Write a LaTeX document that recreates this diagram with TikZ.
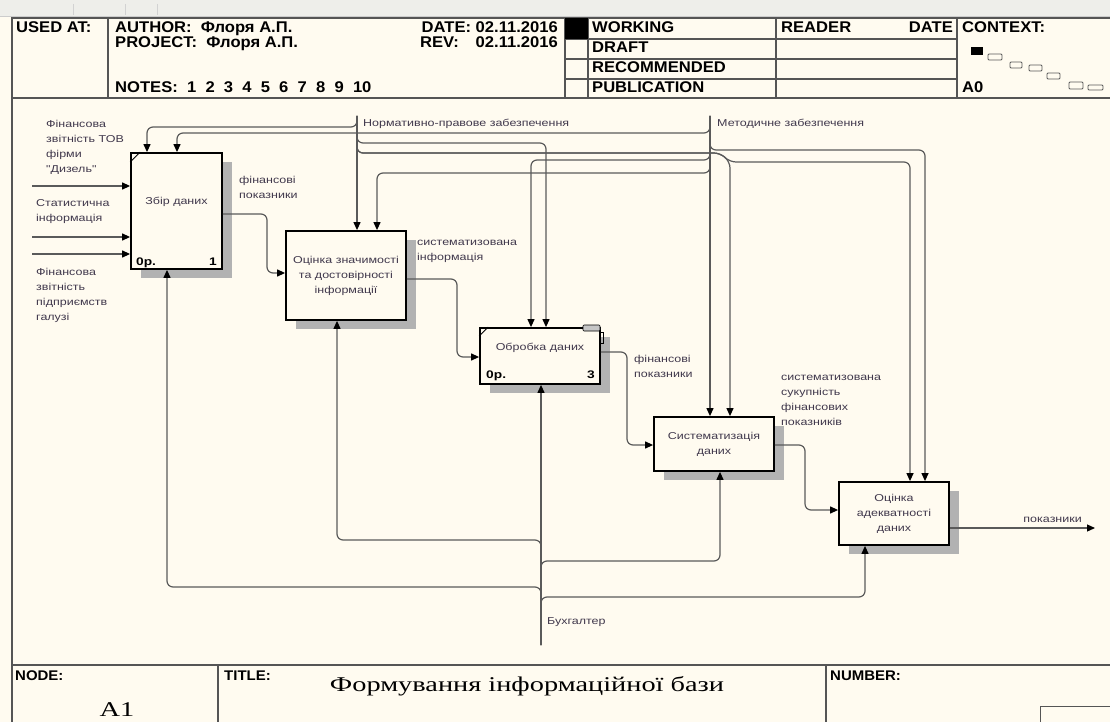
\documentclass[tikz,border=0pt]{standalone}
\usepackage{fontspec}
\setmainfont{Liberation Sans}
\newfontfamily\diagfont[FakeStretch=1.25]{Liberation Sans}
\newfontfamily\headfont[FakeStretch=1.07]{Liberation Sans}
\newfontfamily\titlefont[FakeStretch=1.35]{Liberation Serif}
\usetikzlibrary{positioning}
\usetikzlibrary{shadows}
\usetikzlibrary{arrows.meta}

\definecolor{paper}{RGB}{255,251,240}
\definecolor{wirec}{RGB}{90,90,90}
\definecolor{ink}{RGB}{64,56,76}
\definecolor{framec}{RGB}{85,85,85}
\definecolor{topband}{RGB}{238,238,234}

\tikzset{
  box/.style={draw=black, line width=1.8pt, fill=paper, inner sep=2pt,
    general shadow={fill=gray!60, shadow xshift=10pt, shadow yshift=-9pt},
    font=\diagfont\fontsize{10}{15}\selectfont, text=ink, align=center},
  tag/.style={inner sep=0pt, font=\diagfont\fontsize{10}{15}\selectfont, text=ink, align=left},
  num/.style={inner sep=0pt, font=\diagfont\fontsize{11}{13}\selectfont\bfseries},
  head/.style={inner sep=0pt, font=\headfont\fontsize{15.5}{18}\selectfont\bfseries},
  foot/.style={inner sep=0pt, font=\headfont\fontsize{14}{16}\selectfont\bfseries},
  flow/.style={draw=wirec, line width=1.2pt, rounded corners=6pt,
    -{Triangle[length=8pt,width=7pt,color=black]}},
  frm/.style={draw=framec, line width=1.6pt},
}

\begin{document}
\begin{tikzpicture}[x=1pt, y=-1pt]
	\useasboundingbox (0,0) rectangle (1110,722);
	\fill[paper] (0,0) rectangle (1110,722);
	\fill[topband] (0,0) rectangle (1110,16);
	\draw[gray!40] (0,16) -- (1110,16);
	\foreach \t in {73,125,157}
		\draw[gray!35] (\t,4) -- (\t,15);
	
	% frame
	\draw[frm] (12,722) -- (12,18) -- (1110,18);
	\draw[frm] (12,98) -- (1110,98);
	\draw[frm] (12,665) -- (1110,665);
	\draw[frm] (108,18) -- (108,98);
	\draw[frm] (565,18) -- (565,98);
	\draw[frm] (588,18) -- (588,98);
	\draw[frm] (776,18) -- (776,98);
	\draw[frm] (957,18) -- (957,98);
	\foreach \r in {39,59,79}
		\draw[frm, line width=1.2pt] (565,\r) -- (957,\r);
	\fill (565,18) rectangle (588,39);
	\draw[frm] (218,665) -- (218,722);
	\draw[frm] (826,665) -- (826,722);
	\draw[frm, line width=1pt] (1040,722) -- (1040,706) -- (1110,706);
	
	% header
	\node[head, anchor=base west] (used) at (16,33) {USED AT:};
	\node[head, anchor=base west] (author) at (115,33) {AUTHOR:\ \ Флоря А.П.};
	\node[head, anchor=base west] (project) at (115,48) {PROJECT:\ \ Флоря А.П.};
	\node[head, anchor=base west] (notes) at (115,93) {NOTES:\ \ 1\ \ 2\ \ 3\ \ 4\ \ 5\ \ 6\ \ 7\ \ 8\ \ 9\ \ 10};
	\node[head, anchor=base east] (date) at (558,33) {DATE: 02.11.2016};
	\node[head, anchor=base west] (rev) at (420,48) {REV:};
	\node[head, anchor=base east] (revval) at (558,48) {02.11.2016};
	\node[head, anchor=base west] (working) at (592,33) {WORKING};
	\node[head, anchor=base west] (draft) at (592,53) {DRAFT};
	\node[head, anchor=base west] (recom) at (592,73) {RECOMMENDED};
	\node[head, anchor=base west] (publ) at (592,93) {PUBLICATION};
	\node[head, anchor=base west] (reader) at (781,33) {READER};
	\node[head, anchor=base east] (rdate) at (953,33) {DATE};
	\node[head, anchor=base west] (context) at (962,33) {CONTEXT:};
	\node[head, anchor=base west] (ctxnode) at (962,93) {A0};
	
	% context miniature
	\fill (971,47) rectangle (983,55);
	\foreach \a/\b/\c/\d in {988/54/1002/60, 1010/62/1022/68, 1029/65/1042/71,
		1047/73/1060/79, 1069/82/1083/89, 1088/85/1103/90}
		\draw[gray!70!black, line width=0.8pt, rounded corners=1pt] (\a,\b) rectangle (\c,\d);
	
	% footer
	\node[foot, anchor=base west] (nodelbl) at (15,680) {NODE:};
	\node[foot, anchor=base west] (titlelbl) at (224,680) {TITLE:};
	\node[foot, anchor=base west] (numlbl) at (830,680) {NUMBER:};
	\node[font=\titlefont\fontsize{21}{24}\selectfont] (a1) at (117,710) {A1};
	\node[font=\titlefont\fontsize{21}{24}\selectfont] (title) at (527,686) {Формування інформаційної бази};
	
	% activity boxes
	\node[box, minimum width=91pt, minimum height=116pt] (b1) at (176.5,211) {};
	\node[box, minimum width=120pt, minimum height=89pt] (b2) at (346,275.5) {Оцінка значимості\\та достовірності\\інформації};
	\node[box, minimum width=120pt, minimum height=56pt] (b3) at (540,356) {};
	\node[box, minimum width=120pt, minimum height=54pt] (b4) at (714,444) {Систематизація\\даних};
	\node[box, minimum width=110pt, minimum height=63pt] (b5) at (894,513.5) {Оцінка\\адекватності\\даних};
	
	\node[tag, align=center] (b1txt) at (176.5,202) {Збір даних};
	\node[num, anchor=base west] (b1cost) at (136,265) {0р.};
	\node[num, anchor=base east] (b1no) at (217,265) {1};
	\draw[line width=0.8pt] ([yshift=-10pt]b1.north west) -- ([xshift=10pt]b1.north west);
	
	\node[tag, align=center] (b3txt) at (540,348) {Обробка даних};
	\node[num, anchor=base west] (b3cost) at (486,378) {0р.};
	\node[num, anchor=base east] (b3no) at (595,378) {3};
	\draw[line width=0.8pt] ([yshift=-9pt]b3.north west) -- ([xshift=9pt]b3.north west);
	\draw[fill=gray!45, line width=0.6pt, rounded corners=1pt] (583,325) rectangle (600,331);
	\draw[line width=0.8pt] (600,332) -- (603,332) -- (603,343) -- (600,343);
	
	% inputs
	\coordinate (in1) at (32,186);
	\coordinate (in2) at (32,237);
	\coordinate (in3) at (32,254);
	\draw[flow] (in1) -- (in1 -| b1.west);
	\draw[flow] (in2) -- (in2 -| b1.west);
	\draw[flow] (in3) -- (in3 -| b1.west);
	\node[tag, anchor=north west] (in1lbl) at (46,120) {Фінансова\\звітність ТОВ\\фірми\\"Дизель"};
	\node[tag, anchor=north west] (in2lbl) at (36,199) {Статистична\\інформація};
	\node[tag, anchor=north west] (in3lbl) at (36,268) {Фінансова\\звітність\\підприємств\\галузі};
	
	% outputs
	\draw[flow] (b1.east |- 0,214) -| (267,273) -- (b2.west |- 0,273);
	\draw[flow] (b2.east |- 0,279) -| (457,357) -- (b3.west |- 0,357);
	\draw[flow] (b3.east |- 0,352) -| (627,445) -- (b4.west |- 0,445);
	\draw[flow] (b4.east |- 0,445) -| (805,510) -- (b5.west |- 0,510);
	\coordinate (out) at (1095,528);
	\draw[flow] (b5.east |- out) -- (out);
	\node[tag, anchor=north west] (o1lbl) at (239,176) {фінансові\\показники};
	\node[tag, anchor=north west] (o2lbl) at (417,240) {систематизована\\інформація};
	\node[tag, anchor=north west] (o3lbl) at (634,355) {фінансові\\показники};
	\node[tag, anchor=north west] (o4lbl) at (781,375) {систематизована\\сукупність\\фінансових\\показників};
	\node[tag, anchor=south east] (o5lbl) at (1082,523) {показники};
	
	% controls
	\coordinate (norm) at (357,116);
	\coordinate (meth) at (710,116);
	\node[tag, anchor=west] (normlbl) at (363,124) {Нормативно-правове забезпечення};
	\node[tag, anchor=west] (methlbl) at (717,124) {Методичне забезпечення};
	\draw[flow] (norm) -- (norm |- b2.north);
	\draw[flow] (norm) |- (147,127) -- (147,0 |- b1.north);
	\draw[flow] (meth) |- (177,133) -- (177,0 |- b1.north);
	\draw[flow] (norm) |- (546,143) -- (546,0 |- b3.north);
	\draw[flow] (meth) |- (531,160) -- (531,0 |- b3.north);
	\draw[flow] (meth) |- (377,173) -- (377,0 |- b2.north);
	\draw[flow] (meth) -- (meth |- b4.north);
	\draw[flow] (meth) |- (925,150) -- (925,0 |- b5.north);
	\draw[flow] (norm) |- (720,153) -- (730,162) -- (730,0 |- b4.north);
	\draw[flow] (norm) |- (720,153) -- (730,162) -- (910,162) -- (910,0 |- b5.north);
	
	% mechanisms
	\coordinate (mech) at (541,645);
	\node[tag, anchor=west] (mechlbl) at (547,622) {Бухгалтер};
	\draw[flow] (mech) -- (mech |- b3.south);
	\draw[flow] (mech) |- (167,587) -- (167,0 |- b1.south);
	\draw[flow] (mech) |- (337,540) -- (337,0 |- b2.south);
	\draw[flow] (mech) |- (720,561) -- (720,0 |- b4.south);
	\draw[flow] (mech) |- (865,597) -- (865,0 |- b5.south);
	
\end{tikzpicture}
\end{document}
